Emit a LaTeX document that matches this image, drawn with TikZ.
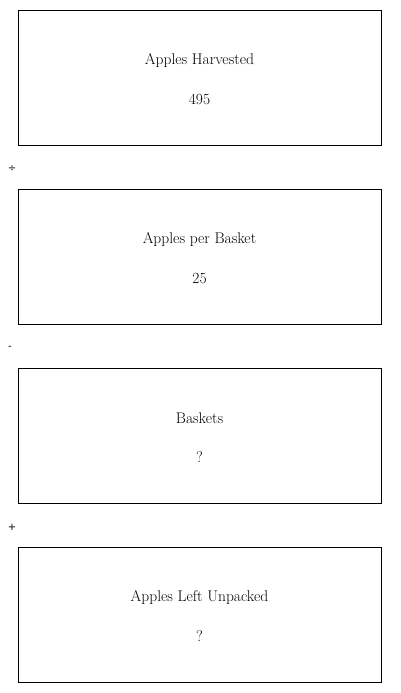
\documentclass[tikz,border=0pt]{standalone}
\usepackage{fontspec}
\newfontfamily\symfont{DejaVu Sans}
\begin{document}
\begin{tikzpicture}[x=1pt,y=-1pt,
  box/.style={draw=black,line width=0.8pt,minimum width=363pt,minimum height=135pt,inner sep=0pt},
  lbl/.style={font=\fontsize{15.5}{18}\selectfont},
  op/.style={font=\symfont\fontsize{10}{12}\selectfont}]
\useasboundingbox (0,0) rectangle (400,693);
\foreach \n/\t/\v/\y in {b1/Apples Harvested/495/77.5, b2/Apples per Basket/25/256.5, b3/Baskets/?/435.5, b4/Apples Left Unpacked/?/614.5}{
  \node[box] (\n) at (199.5,\y) {};
  \node[lbl] (\n t) at (199.5,\y-17) {\t};
  \node[lbl] (\n v) at (199.5,\y+21.5) {\v};
}
\node[op] (o1) at (12,169) {÷};
\node[op] (o2) at (10,348) {-};
\node[op] (o3) at (12,527) {+};
\end{tikzpicture}
\end{document}
